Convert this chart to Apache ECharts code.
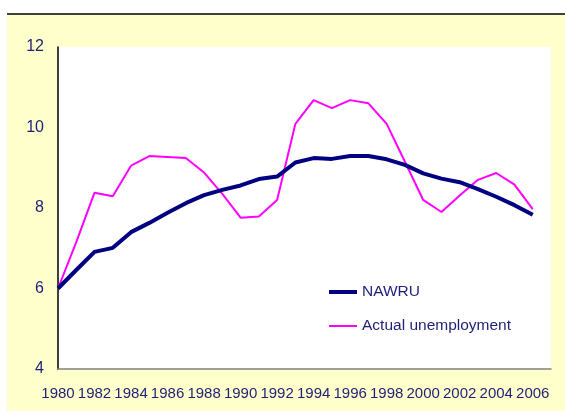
<!DOCTYPE html>
<html>
<head>
<meta charset="utf-8">
<script src="https://cdn.jsdelivr.net/npm/echarts@6/dist/echarts.min.js"></script>
<style>html,body{margin:0;padding:0;background:#fff}#c{width:565px;height:411px}</style>
</head>
<body>
<div id="c"></div>
<script>
const years = [1980,1981,1982,1983,1984,1985,1986,1987,1988,1989,1990,1991,1992,1993,1994,1995,1996,1997,1998,1999,2000,2001,2002,2003,2004,2005,2006];
const nawru = [6.0,6.46,6.91,7.01,7.40,7.63,7.88,8.12,8.32,8.45,8.56,8.72,8.78,9.13,9.24,9.22,9.29,9.29,9.21,9.07,8.86,8.73,8.64,8.47,8.28,8.07,7.83];
const actual = [6.0,7.15,8.38,8.29,9.05,9.29,9.27,9.24,8.88,8.35,7.76,7.79,8.20,10.09,10.68,10.48,10.68,10.60,10.09,9.15,8.20,7.90,8.31,8.70,8.87,8.58,7.97];
const seriesNames = ['NAWRU','Actual unemployment'];

const FONT = "'Liberation Sans', Arial, sans-serif";
const TXT = '#1f1f78';
const legendText = {fontFamily:FONT, fontSize:15.5, color:TXT, lineHeight:16};
const chart = echarts.init(document.getElementById('c'), null, {renderer:'canvas'});
chart.setOption({
  animation:false,
  backgroundColor:'#ffffff',
  graphic:[
    {type:'rect', shape:{x:7,y:14,width:558,height:397}, style:{fill:'#FFFFCC'}, z:-10},
    {type:'line', shape:{x1:7,y1:14,x2:565,y2:14}, style:{stroke:'#000',lineWidth:1.5}, z:-9}
  ],
  grid:{left:58, top:47, right:14, bottom:42, show:true, backgroundColor:'#ffffff', borderWidth:0},
  legend:[
    {orient:'vertical', left:324, top:279, itemWidth:28, itemHeight:4, icon:'rect',
     textStyle:legendText, data:[seriesNames[0]]},
    {orient:'vertical', left:324, top:313, itemWidth:28, itemHeight:2, icon:'rect',
     textStyle:legendText, data:[seriesNames[1]]}
  ],
  xAxis:{
    type:'value', min:1980, max:2007, interval:2,
    axisLine:{show:true, lineStyle:{color:'#808080', width:1.5}},
    axisTick:{show:false}, splitLine:{show:false},
    axisLabel:{fontFamily:FONT, fontSize:15, color:TXT, margin:17,
      formatter:v => (v % 2 === 0 && v <= 2006) ? String(v) : ''}
  },
  yAxis:{
    type:'value', min:4, max:12, interval:2,
    axisLine:{show:true, lineStyle:{color:'#000', width:1.5}},
    axisTick:{show:false}, splitLine:{show:false},
    axisLabel:{fontFamily:FONT, fontSize:16, color:TXT, margin:14}
  },
  series:[
    {name:seriesNames[0], type:'line', symbol:'none', data:years.map((y,i)=>[y,nawru[i]]),
     lineStyle:{color:'#000080', width:4}, itemStyle:{color:'#000080'}, z:3},
    {name:seriesNames[1], type:'line', symbol:'none', data:years.map((y,i)=>[y,actual[i]]),
     lineStyle:{color:'#FF00FF', width:2}, itemStyle:{color:'#FF00FF'}, z:2}
  ]
});
</script>
</body>
</html>
